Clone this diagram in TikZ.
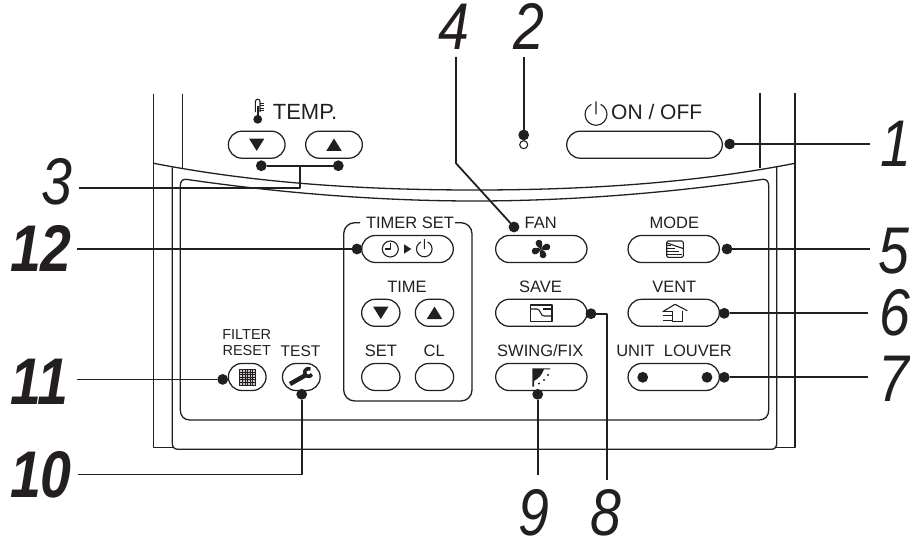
\documentclass[tikz,border=0pt]{standalone}
\usepackage{fontspec}
\setmainfont{Liberation Sans}
\usetikzlibrary{shapes.misc}
\definecolor{ink}{HTML}{231F20}
\newcommand{\poweric}[3]{\draw[thinln] (#1,#2) +(115:#3pt) arc[start angle=115,end angle=425,radius=#3pt] (#1,#2) -- ++(0,-#3-2);}
\begin{document}
\begin{tikzpicture}[x=1pt,y=-1pt,line join=round,color=ink,
thinln/.style={line width=1.1pt},
case/.style={line width=1.3pt},
conn/.style={line width=1.8pt},
btn/.style={draw,rounded rectangle,line width=1.25pt,inner sep=0pt,outer sep=0pt,minimum height=27pt},
dot/.style={circle,fill,inner sep=0pt,outer sep=0pt,minimum size=10.8pt},
lbl/.style={inner sep=0pt,font=\fontsize{16.5}{16.5}\selectfont},
num/.style={inner sep=0pt,font=\fontsize{66}{66}\selectfont\itshape},
numb/.style={inner sep=0pt,font=\fontsize{66}{66}\selectfont\bfseries\itshape}]
\useasboundingbox (0,0) rectangle (910,543);
% casing and panel
\draw[case] (153.7,94.3)--(153.7,447.7)--(173,447.7) (795,93.3)--(795,447.7)--(776,447.7);
\draw[case] (182.7,94.3)--(182.7,168.3) (760,93.3)--(760,168.3);
\draw[case] (153.7,163.3) .. controls (260,184) and (370,190) .. (474.4,190) .. controls (579,190) and (689,184) .. (795,163.3);
\draw[case] (172.3,167.3)--(172.3,443) .. controls (172.3,447) and (174,449.3) .. (178,449.3)--(771,449.3) .. controls (775,449.3) and (776.7,447) .. (776.7,443)--(776.7,166.7);
\draw[case] (186,179.3) .. controls (280,193) and (380,201) .. (474.4,201) .. controls (569,201) and (669,193) .. (763,179.3) .. controls (767,179.3) and (768.7,182) .. (768.7,186)--(768.7,410) .. controls (768.7,416) and (765,420) .. (759,420)--(190,420) .. controls (184,420) and (180.3,416) .. (180.3,410)--(180.3,186) .. controls (180.3,182) and (182,179) .. (186,179.3);
\draw[case,rounded corners=11pt] (360,222.7)--(343.7,222.7)--(343.7,401)--(472,401)--(472,222.7)--(455,222.7);
% buttons
\foreach \n/\x/\y/\w in {TempDn/256.7/144.7/56.7,TempUp/334/144.7/56.7,OnOff/644.5/144.7/155.6,Timer/407.5/249/91.6,Fan/541.3/249/91.3,Mode/673.7/249/91.3,Save/541.3/312.8/91.3,Vent/673.7/312.8/91.3,Swing/541.3/377/91.3,Unit/673.7/377/91.3,TimeDn/380.8/312.8/38.3,TimeUp/434.5/312.8/38.3,Set/380.8/377/38.3,Cl/434.5/377/38.3,Filter/247.2/377/37.7,Test/301.3/377/37.7}
\node[btn,minimum width=\w pt] (b\n) at (\x,\y) {};
% labels
\node[lbl,font=\fontsize{22}{22}\selectfont] (lTemp) at (305,112) {TEMP.};
\node[lbl,font=\fontsize{21}{21}\selectfont] (lOnOff) at (656.7,112) {ON / OFF};
\node[lbl] (lTimer) at (410,223) {TIMER SET};
\node[lbl] (lFan) at (540.7,222.7) {FAN};
\node[lbl] (lMode) at (674.3,222.7) {MODE};
\node[lbl] (lTime) at (407,286.7) {TIME};
\node[lbl] (lSave) at (540.5,286.7) {SAVE};
\node[lbl] (lVent) at (674.3,286.7) {VENT};
\node[lbl] (lSet) at (380.8,351) {SET};
\node[lbl] (lCl) at (434.2,351) {CL};
\node[lbl] (lSwing) at (540.3,351) {SWING/FIX};
\node[lbl] (lUnit) at (674,351) {UNIT\ \ LOUVER};
\node[lbl,font=\fontsize{15.5}{15.5}\selectfont] (lTest) at (300.5,351) {TEST};
\node[lbl,align=center,font=\fontsize{14.5}{16}\selectfont] (lFilter) at (246.7,343) {FILTER\\RESET};
% dots
\foreach \n/\x/\y in {TempDn/261.3/165.7,TempUp/338.3/165.7,Led/523.7/135,OnOff/729.7/144,Timer/357/249,Fan/514/227,Mode/727/249,Save/591/313.7,Vent/724.3/313.3,Unit/724.3/377.3,Swing/537.7/394.3,Filter/222.7/379.4,Test/301.7/394.3}
\node[dot] (d\n) at (\x,\y) {};
\node[dot] (dUnitL) at (642.7,377.3) {};
\node[dot] (dUnitR) at (707,377.3) {};
\node[draw,circle,fill=white,thinln,inner sep=0pt,minimum size=8pt] (led) at (523.7,144.7) {};
% numbers
\foreach \n/\x/\y in {1/896/143.5,2/529/26.5,3/56.5/182,4/454/26.5,5/893.5/251.5,6/895/313,7/894/379,8/606/513,9/534/513}
\node[num] (n\n) at (\x,\y) {\scalebox{.84}[1]{\n}};
\foreach \n/\x/\y in {10/41/474.5,11/39.5/381.5,12/41/248.5}
\node[numb] (n\n) at (\x,\y) {\scalebox{.84}[1]{\n}};
% free ends
\foreach \n/\x/\y in {e1/870/144,e2/523.7/57,j3/300/165.7,e3/79/187.7,e4/456/57,k4/456/163.3,e5/870/249,e6/868/313.3,e7/868/377.3,k8/606.7/313.7,e8/606.7/480,e9/537.7/474.5,k10/301.7/474.5,e10/78/474.5,e11/77/379.4,e12/77/249}
\coordinate (\n) at (\x,\y);
% connectors
\draw[conn] (dOnOff)--(e1);
\draw[conn] (dLed)--(e2);
\draw[conn] (dTempDn)--(dTempUp);
\draw[conn] (j3)|-(e3);
\draw[conn] (dFan)--(k4)--(e4);
\draw[conn] (dMode)--(e5);
\draw[conn] (dVent)--(e6);
\draw[conn] (dUnit)--(e7);
\draw[conn] (dSave)--(k8)--(e8);
\draw[conn] (dSwing)--(e9);
\draw[conn] (dTest)--(k10)--(e10);
\draw[conn] (dFilter)--(e11);
\draw[conn] (dTimer)--(e12);
% triangles
\foreach \x/\y in {256.7/144.7,380.8/312.8} \fill (\x-7.7,\y-6.2)--(\x+7.7,\y-6.2)--(\x,\y+6.2)--cycle;
\foreach \x/\y in {334/144.7,434.5/312.8} \fill (\x-7.7,\y+6.2)--(\x+7.7,\y+6.2)--(\x,\y-6.2)--cycle;
% thermometer
\draw[thinln] (255.4,112)--(255.4,101.5) .. controls (255.4,98.5) and (260,98.5) .. (260,101.5)--(260,112);
\fill (257.7,119.3) circle[radius=4.4pt];
\fill (256.6,106) rectangle (258.8,116);
\foreach \y in {103,105.5,108,110.5} \draw[line width=.7pt] (260,\y)--(263.5,\y);
% power and clock
\poweric{596}{114.3}{11}
\poweric{424.3}{249}{7.8}
\draw[thinln] (390.3,249) circle[radius=8pt];
\draw[thinln] (390.3,242.5)--(390.3,249)--(384.5,249);
\fill (404,244.3)--(411.3,249)--(404,253.7)--cycle;
% fan
\foreach \a in {20,110,200,290}
\fill[rotate around={\a:(541,249)}] (541,249) .. controls (537,245) and (536.5,240.5) .. (540.5,239.5) .. controls (545,239) and (546,244) .. (541,249);
% mode
\draw[thinln,rounded corners=1.5pt] (666.7,241) rectangle (683.3,257.3);
\draw[thinln] (667,243)--(683,248.5);
\foreach \y/\x in {245/671,248/675,251/679,254/682} \draw[line width=.8pt] (667,\y)--(\x,\y);
% save
\draw[thinln] (530.7,305) rectangle (552,321.7);
\draw[thinln] (531,309) -- (537,309) .. controls (541,309) and (540,316) .. (544,316) -- (551.5,316);
\fill (543,307.5) rectangle (551.5,310);
% vent
\draw[thinln] (672.7,311.5)--(672.7,321.7)--(682.3,321.7)--(682.3,311);
\draw[thinln] (662.7,311.7)--(675,304.3)--(687.3,310.7);
\foreach \y in {311.7,315.7,320} \draw[line width=.9pt] (663,\y)--(672.7,\y);
% swing
\fill (532.3,368.3)--(550,368.3)--(550,369.3)--(544,369.3) .. controls (542,375) and (538,379) .. (534,381)--(534,386.7)--(532.3,386.7)--cycle;
\foreach \x/\y in {548/375,544/380,539/383.5} \fill (\x,\y) circle[radius=1.2pt];
% filter
\fill[rounded corners=1.5pt,fill=ink!25] (239.3,369) rectangle (256,385.7);
\foreach \i in {0,...,6} {
\draw[line width=.9pt] (239.8+\i*2.6,369)--(239.8+\i*2.6,385.7);
\draw[line width=.9pt] (239.3,369.5+\i*2.6)--(256,369.5+\i*2.6);
}
% wrench
\draw[line width=4.5pt] (290,384)--(305,375.5);
\draw[line width=3.5pt] (308.5,372.5) +(60:4pt) arc[start angle=60,end angle=330,radius=4pt];
\end{tikzpicture}
\end{document}
